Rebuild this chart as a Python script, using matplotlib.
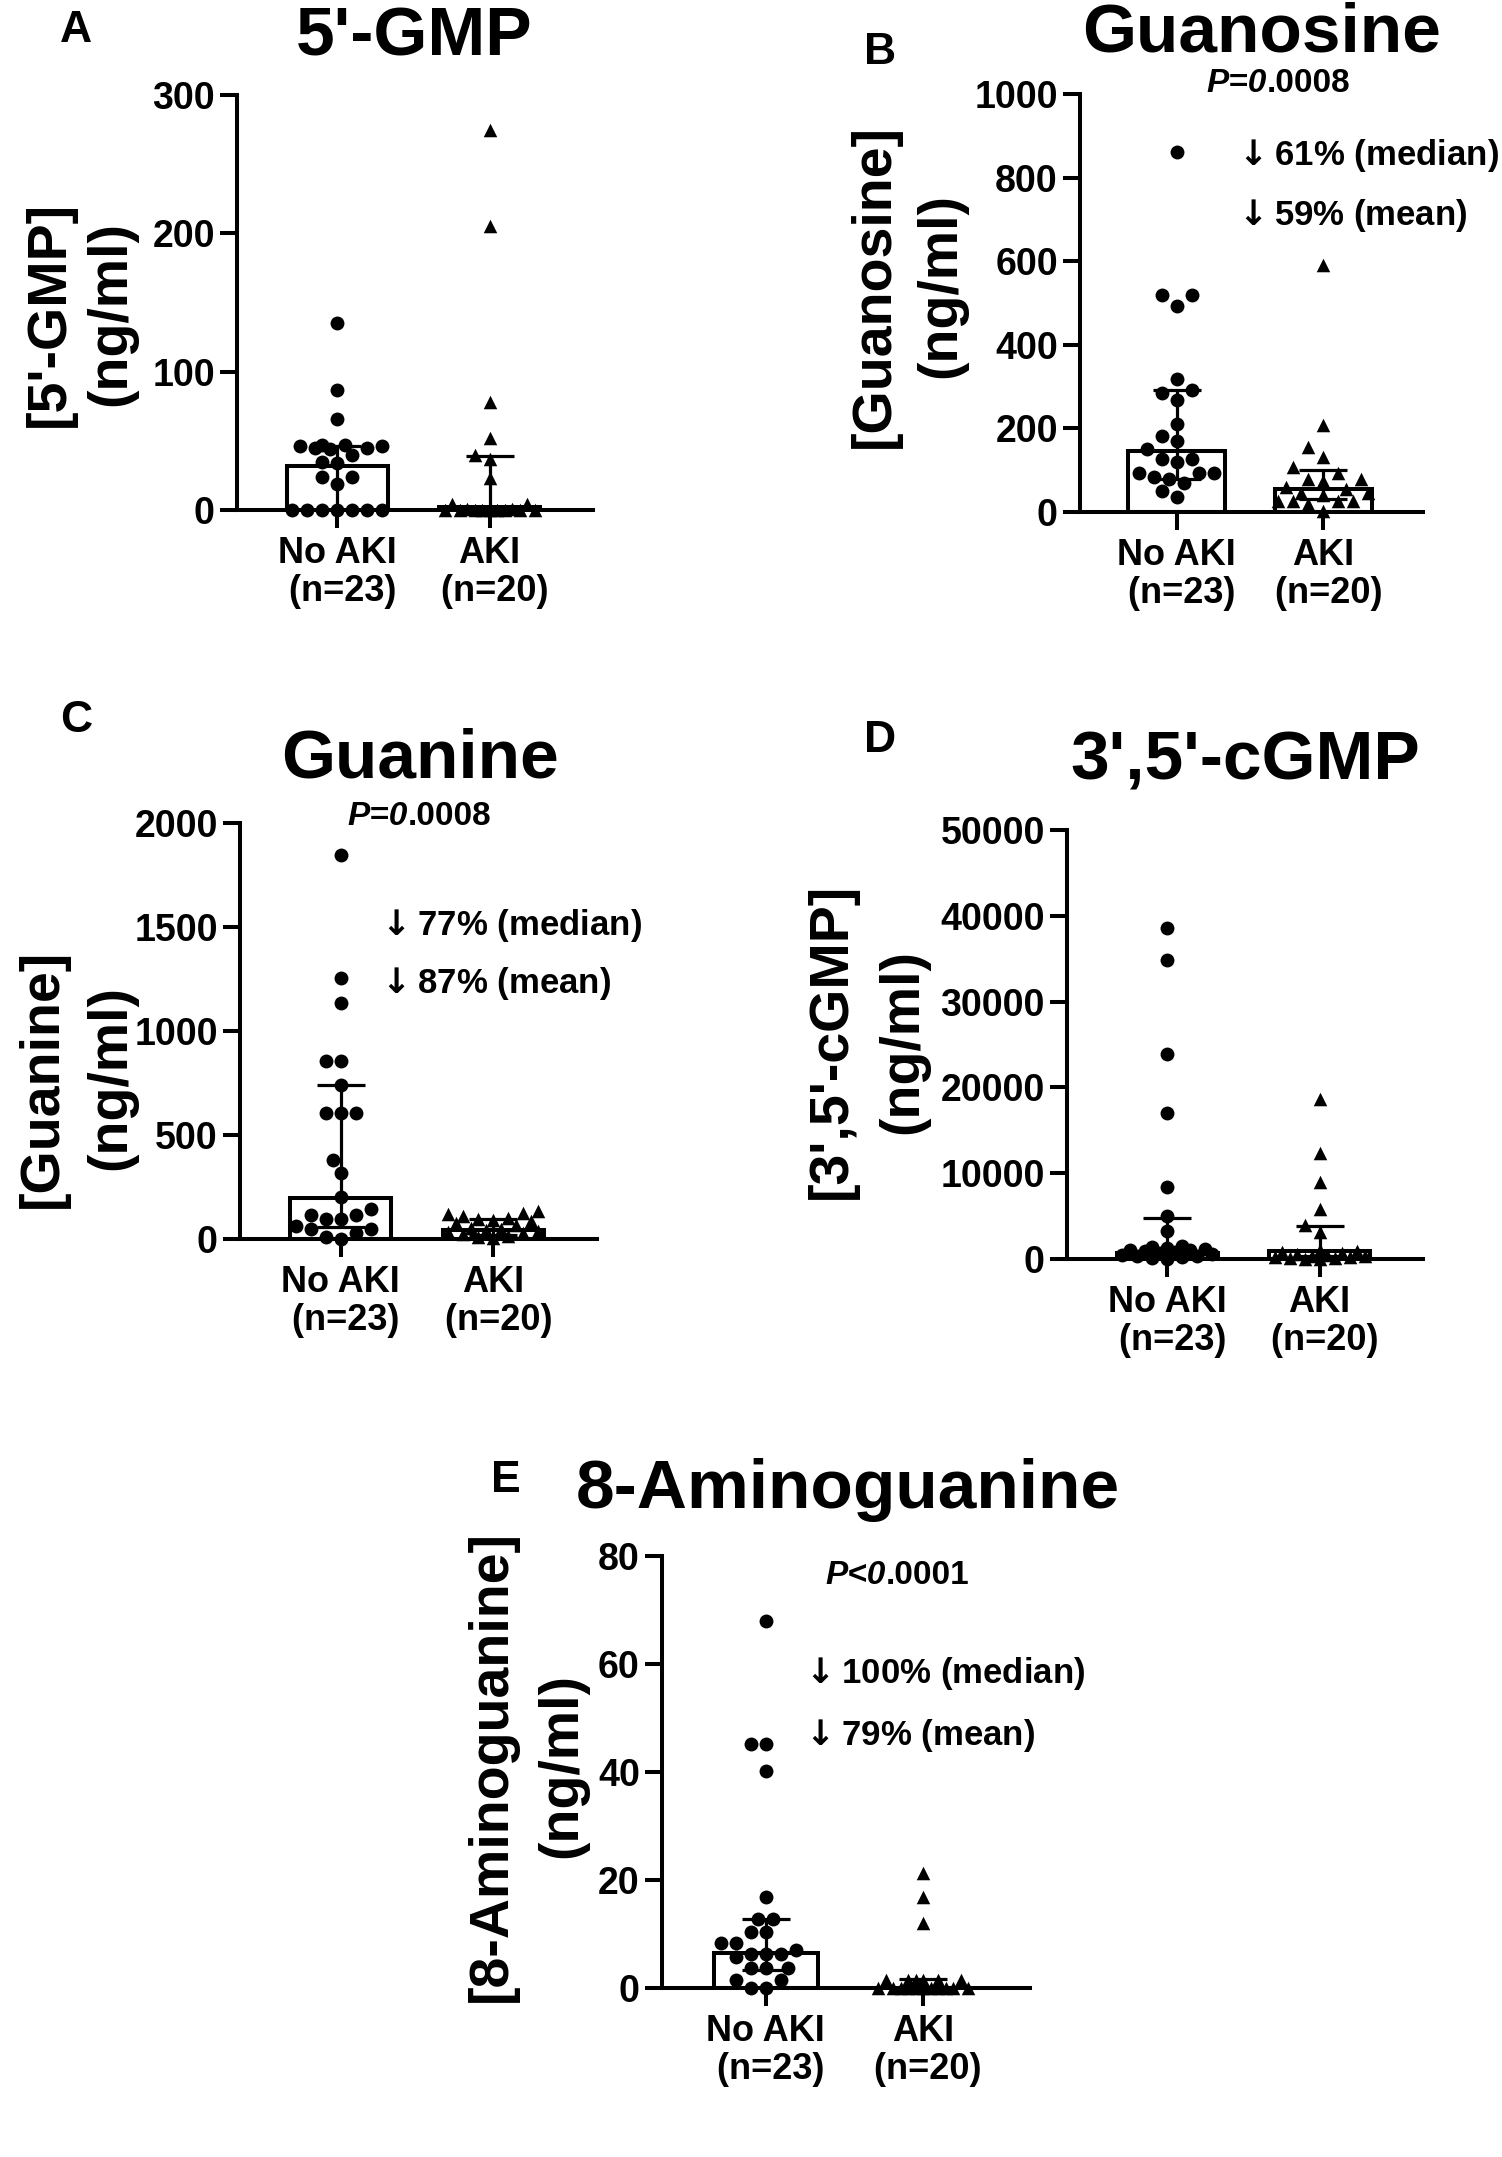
import numpy as np
import matplotlib
matplotlib.use('Agg')
import matplotlib.pyplot as plt

plt.rcParams['font.family'] = ['Liberation Sans', 'DejaVu Sans']
plt.rcParams['font.weight'] = 'bold'
plt.rcParams['axes.linewidth'] = 2.9

groups = ['No AKI\n (n=23)', 'AKI\n (n=20)']

# 5'-GMP
gmp_no = [135, 87, 66, 47, 47, 46, 46, 45, 45, 44, 40, 35, 34, 24, 24, 19, 0, 0, 0, 0, 0, 0, 0]
gmp_aki = [275, 205, 78, 52, 40, 37, 23, 4, 4, 1, 1, 0, 0, 0, 0, 0, 0, 0, 0, 0]
gmp_med = [32, 2]
gmp_lo = [0, 0]
gmp_hi = [46, 39]

# Guanosine
guo_no = [862, 520, 520, 492, 318, 291, 285, 269, 210, 181, 169, 150, 126, 126, 120,
          93, 93, 93, 84, 79, 69, 50, 36]
guo_aki = [592, 207, 155, 131, 107, 93, 79, 79, 74, 60, 55, 46, 46, 40, 27, 27, 27, 27, 20, 3]
guo_med = [146, 54]
guo_lo = [79, 31]
guo_hi = [291, 100]

# Guanine
gua_no = [1844, 1254, 1135, 858, 858, 740, 608, 608, 608, 379, 317, 202, 142, 115, 115,
          94, 94, 63, 46, 46, 31, 10, 0]
gua_aki = [135, 125, 118, 110, 100, 95, 90, 85, 75, 65, 55, 50, 45, 40, 35, 30, 25, 15, 10, 5]
gua_med = [195, 43]
gua_lo = [60, 20]
gua_hi = [740, 95]

# 3',5'-cGMP
cgmp_no = [38600, 34900, 23900, 17000, 8400, 5000, 3300, 1500, 1450, 1300, 1200, 1100,
           1000, 900, 800, 700, 600, 500, 400, 300, 200, 100, 50]
cgmp_aki = [18600, 12300, 9000, 5800, 4000, 3100, 1000, 900, 800, 700, 600, 500, 400,
            300, 250, 200, 150, 100, 50, 0]
cgmp_med = [700, 930]
cgmp_lo = [250, 300]
cgmp_hi = [4800, 3900]

# 8-Aminoguanine
amg_no = [67.9, 45.1, 45.1, 40.2, 16.8, 12.7, 12.7, 10.4, 10.4, 8.4, 8.4, 7.1, 6.3, 6.3,
          6.3, 5.8, 3.7, 3.7, 3.7, 1.5, 1.5, 0, 0]
amg_aki = [21.3, 16.8, 12.1, 1.5, 1.5, 1.5, 1.5, 1.5, 1.5, 0, 0, 0, 0, 0, 0, 0, 0, 0, 0, 0]
amg_med = [6.4, 0]
amg_lo = [3.4, 0]
amg_hi = [12.7, 1.7]

W, H = 1502, 2157
fig = plt.figure(figsize=(W / 100, H / 100), dpi=100)


def add_axes(l, t, r, b):
    return fig.add_axes([l / W, 1 - b / H, (r - l) / W, (b - t) / H])


def swarm_x(ax, xc, vals, step=7.5, dmin=14, maxoff=52):
    # simple beeswarm in pixel space, packed like a prism scatter column
    T = ax.transData
    vals = np.asarray(vals, float)
    cx = T.transform((xc, 0))[0]
    cands = [0]
    for k in range(1, int(maxoff / step) + 1):
        cands += [-k, k]
    placed = []
    xs = np.zeros(len(vals))
    for i in np.argsort(vals, kind='stable'):
        py = T.transform((xc, vals[i]))[1]
        best, bestd = 0, -1
        for k in cands:
            px = cx + k * step
            d = min([np.hypot(px - qx, py - qy) for qx, qy in placed], default=1e9)
            if d >= dmin:
                best = k
                break
            if d > bestd:
                best, bestd = k, d
        px = cx + best * step
        placed.append((px, py))
        xs[i] = T.inverted().transform((px, py))[0]
    return xs


def panel(rect, no, aki, med, lo, hi, ymax, ystep):
    ax = add_axes(*rect)
    ax.set_xlim(-0.66, 1.68)
    ax.set_ylim(0, ymax)
    ax.spines['top'].set_visible(False)
    ax.spines['right'].set_visible(False)
    ax.bar([0, 1], med, width=0.66, color='white', edgecolor='black', linewidth=2.9, zorder=1)
    med = np.array(med, float)
    ax.errorbar([0, 1], med, yerr=[med - np.array(lo), np.array(hi) - med], fmt='none',
                ecolor='black', elinewidth=2.3, capsize=17, capthick=2.3, zorder=2)
    for xc, vals, mk, s in [(0, no, 'o', 100), (1, aki, '^', 95)]:
        xs = swarm_x(ax, xc, vals)
        ax.scatter(xs, vals, marker=mk, s=s, color='black', linewidths=0, zorder=3, clip_on=False)
    ax.set_yticks(np.arange(0, ymax + 1, ystep))
    ax.set_xticks([0, 1])
    ax.set_xticklabels(groups, linespacing=1.1)
    ax.tick_params(axis='y', length=12, width=2.9, labelsize=27, pad=4)
    ax.tick_params(axis='x', length=13, width=2.9, labelsize=26, pad=6)
    return ax


def ylab(x1, x2, y, l1, l2):
    fig.text(x1 / W, 1 - y / H, l1, rotation=90, ha='center', va='center', fontsize=40)
    fig.text(x2 / W, 1 - y / H, l2, rotation=90, ha='center', va='center', fontsize=40)


def ptext(ax, x, y, head, tail):
    t = fig.text(x / W, 1 - y / H, head, style='italic', fontsize=24, ha='left', va='center')
    ax.annotate(tail, xy=(1, 0), xycoords=t, ha='left', va='bottom', fontsize=24,
                annotation_clip=False)


def ftext(x, y, s, size, ha='center'):
    fig.text(x / W, 1 - y / H, s, fontsize=size, ha=ha, va='center')


axA = panel((237, 95, 593, 510), gmp_no, gmp_aki, gmp_med, gmp_lo, gmp_hi, 300, 100)
axB = panel((1080, 94, 1423, 512), guo_no, guo_aki, guo_med, guo_lo, guo_hi, 1000, 200)
axC = panel((240, 823, 597, 1239), gua_no, gua_aki, gua_med, gua_lo, gua_hi, 2000, 500)
axD = panel((1067, 830, 1423, 1259), cgmp_no, cgmp_aki, cgmp_med, cgmp_lo, cgmp_hi, 50000, 10000)
axE = panel((662, 1556, 1030, 1988), amg_no, amg_aki, amg_med, amg_lo, amg_hi, 80, 20)

# panel letters and titles
for s, x, y in [('A', 76, 30), ('B', 880, 52), ('C', 76, 721), ('D', 880, 740), ('E', 506, 1480)]:
    ftext(x, y, s, 32)
for s, x, y in [("5'-GMP", 414, 37), ('Guanosine', 1262, 34), ('Guanine', 420, 760),
                ("3',5'-cGMP", 1245, 761), ('8-Aminoguanine', 848, 1490)]:
    ftext(x, y, s, 50)

ylab(50, 111, 314, "[5'-GMP]", '(ng/ml)')
ylab(875, 941, 286, '[Guanosine]', '(ng/ml)')
ylab(43, 111, 1078, '[Guanine]', '(ng/ml)')
ylab(832, 903, 1041, "[3',5'-cGMP]", '(ng/ml)')
ylab(492, 562, 1766, '[8-Aminoguanine]', '(ng/ml)')

arrow = r'$\downarrow$'
ptext(axB, 1206, 84, 'P=0', '.0008')
ftext(1231, 155, arrow + '61% (median)', 25, ha='left')
ftext(1231, 216, arrow + '59% (mean)', 25, ha='left')

ptext(axC, 347, 817, 'P=0', '.0008')
ftext(374, 926, arrow + '77% (median)', 25, ha='left')
ftext(374, 983, arrow + '87% (mean)', 25, ha='left')

ptext(axE, 825, 1576, 'P<0', '.0001')
ftext(798, 1674, arrow + '100% (median)', 25, ha='left')
ftext(798, 1736, arrow + '79% (mean)', 25, ha='left')

fig.savefig('out.png', dpi=100)
